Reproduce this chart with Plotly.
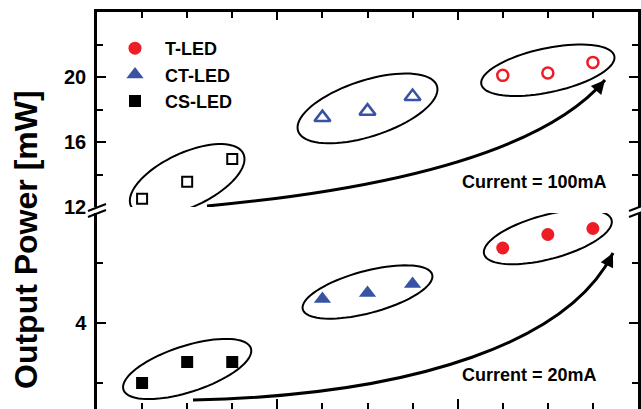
import numpy as np
import plotly.graph_objects as go

# ---------------- data ----------------
x_cs = [1, 2, 3]
x_ct = [5, 6, 7]
x_t = [9, 10, 11]

p100_cs = [12.5, 13.55, 14.95]
p100_ct = [17.5, 17.9, 18.8]
p100_t = [20.1, 20.25, 20.9]

p20_cs = [2.0, 2.7, 2.7]
p20_ct = [4.8, 5.0, 5.3]
p20_t = [6.5, 6.95, 7.15]

top_ticks = [12, 16, 20]
top_minor = [14, 18, 22]
bot_ticks = [4]
bot_minor = [2, 6]

names = ["T-LED", "CT-LED", "CS-LED"]

# ---------------- layout geometry ----------------
W, H = 641, 409
ML, MR, MT, MB = 97, 3, 12, 0
PW, PH = W - ML - MR, H - MT - MB
TOP_PY0, TOP_PY1 = 12, 207      # pixel span of upper section
BOT_PY0, BOT_PY1 = 213, 409     # pixel span of lower section
XR = [0, 12]
YT_R = [12, 24]
YB_R = [1.133, 7.667]

dom_top = [(H - MB - TOP_PY1) / PH, 1.0]
dom_bot = [0.0, (H - MB - BOT_PY0) / PH]

RED = "#ee1c25"
BLUE = "#3953a4"
BLK = "#000000"
FONT = "Liberation Sans, Arial, sans-serif"


def x2px(x):
    return ML + (np.asarray(x, float) - XR[0]) / (XR[1] - XR[0]) * PW


def px2x(p):
    return XR[0] + (np.asarray(p, float) - ML) / PW * (XR[1] - XR[0])


def y2px(v, top):
    r, p0, p1 = (YT_R, TOP_PY0, TOP_PY1) if top else (YB_R, BOT_PY0, BOT_PY1)
    return p1 - (np.asarray(v, float) - r[0]) / (r[1] - r[0]) * (p1 - p0)


def px2y(p, top):
    r, p0, p1 = (YT_R, TOP_PY0, TOP_PY1) if top else (YB_R, BOT_PY0, BOT_PY1)
    return r[0] + (p1 - np.asarray(p, float)) / (p1 - p0) * (r[1] - r[0])


def ellipse_path(xs, ys, top, a, b, ang):
    cx = float(np.mean(x2px(xs)))
    cy = float(np.mean(y2px(ys, top)))
    t = np.linspace(0, 2 * np.pi, 80)
    th = np.deg2rad(ang)
    ex = cx + a * np.cos(t) * np.cos(th) - b * np.sin(t) * np.sin(th)
    ey = cy - (a * np.cos(t) * np.sin(th) + b * np.sin(t) * np.cos(th))
    dx = px2x(ex)
    dy = px2y(ey, top)
    pts = " L ".join(f"{u:.4f},{v:.4f}" for u, v in zip(dx, dy))
    return "M " + pts + " Z"


def pxpt(p, top):
    return f"{float(px2x(p[0])):.4f},{float(px2y(p[1], top)):.4f}"


fig = go.Figure()

# lower section (20 mA), filled markers -> legend
fig.add_trace(go.Scatter(x=x_t, y=p20_t, mode="markers", name=names[0],
                         marker=dict(symbol="circle", size=13, color=RED),
                         xaxis="x", yaxis="y"))
fig.add_trace(go.Scatter(x=x_ct, y=p20_ct, mode="markers", name=names[1],
                         marker=dict(symbol="triangle-up", size=15, color=BLUE),
                         xaxis="x", yaxis="y"))
fig.add_trace(go.Scatter(x=x_cs, y=p20_cs, mode="markers", name=names[2],
                         marker=dict(symbol="square", size=12, color=BLK),
                         xaxis="x", yaxis="y"))

# upper section (100 mA), open markers
fig.add_trace(go.Scatter(x=x_t, y=p100_t, mode="markers", showlegend=False,
                         marker=dict(symbol="circle-open", size=11, color=RED,
                                     line=dict(width=2.5, color=RED)),
                         xaxis="x2", yaxis="y2"))
fig.add_trace(go.Scatter(x=x_ct, y=p100_ct, mode="markers", showlegend=False,
                         marker=dict(symbol="triangle-up-open", size=14, color=BLUE,
                                     line=dict(width=2.5, color=BLUE)),
                         xaxis="x2", yaxis="y2"))
fig.add_trace(go.Scatter(x=x_cs, y=p100_cs, mode="markers", showlegend=False,
                         marker=dict(symbol="square-open", size=10, color=BLK,
                                     line=dict(width=2, color=BLK)),
                         xaxis="x2", yaxis="y2"))

shapes = []
# ellipses around groups
ell = [
    (x_cs, p100_cs, True, 62, 27, 25),
    (x_ct, p100_ct, True, 73, 28, 18),
    (x_t, p100_t, True, 68, 22, 12),
    (x_cs, p20_cs, False, 67, 23, 18),
    (x_ct, p20_ct, False, 67, 21, 15),
    (x_t, p20_t, False, 66, 22, 15),
]
for xs, ys, top, a, b, ang in ell:
    shapes.append(dict(type="path", path=ellipse_path(xs, ys, top, a, b, ang),
                       xref="x", yref="y2" if top else "y",
                       line=dict(color=BLK, width=2)))

# curved arrows (pixel control points)
arrows = [
    (True, [(207, 206), (400, 188), (545, 150), (605, 80)]),
    (False, [(193, 400), (420, 395), (570, 340), (613, 253)]),
]
annotations = []
for top, P in arrows:
    path = "M " + pxpt(P[0], top) + " C " + " ".join(pxpt(p, top) for p in P[1:])
    shapes.append(dict(type="path", path=path, xref="x", yref="y2" if top else "y",
                       line=dict(color=BLK, width=3)))
    d = np.array(P[3], float) - np.array(P[2], float)
    d = d / np.linalg.norm(d) * 12
    annotations.append(dict(x=float(px2x(P[3][0])), y=float(px2y(P[3][1], top)),
                            xref="x", yref="y2" if top else "y",
                            ax=-d[0], ay=-d[1], text="", showarrow=True,
                            arrowhead=2, arrowsize=1.1, arrowwidth=2.5,
                            arrowcolor=BLK, standoff=0))

# axis break marks
def ppx(px):
    return (px - ML) / PW


def ppy(py):
    return (H - MB - py) / PH


for bx in (97, 638):
    for off in (0, 6):
        shapes.append(dict(type="line", xref="paper", yref="paper",
                           x0=ppx(bx - 9), y0=ppy(211 + off),
                           x1=ppx(bx + 9), y1=ppy(204 + off),
                           line=dict(color=BLK, width=2)))

annotations.append(dict(x=float(px2x(534)), y=float(px2y(182, True)), xref="x", yref="y2",
                        text="Current = 100mA", showarrow=False,
                        font=dict(family=FONT, size=18, color=BLK, weight="bold")))
annotations.append(dict(x=float(px2x(529)), y=float(px2y(375, False)), xref="x", yref="y",
                        text="Current = 20mA", showarrow=False,
                        font=dict(family=FONT, size=18, color=BLK, weight="bold")))
annotations.append(dict(x=ppx(26), y=ppy(240), xref="paper", yref="paper",
                        text="Output Power [mW]", textangle=-90, showarrow=False,
                        xanchor="center", yanchor="middle",
                        font=dict(family=FONT, size=32, color=BLK, weight="bold")))

tickfont = dict(family=FONT, size=20, color=BLK, weight="bold")

fig.update_layout(
    width=W, height=H,
    margin=dict(l=ML, r=MR, t=MT, b=MB, pad=0, autoexpand=False),
    paper_bgcolor="white", plot_bgcolor="white",
    showlegend=True,
    legend=dict(x=ppx(105), y=ppy(30), xanchor="left", yanchor="top",
                bgcolor="rgba(0,0,0,0)", font=dict(family=FONT, size=18, color=BLK, weight="bold"),
                tracegroupgap=0, itemsizing="trace", itemwidth=50),
    xaxis=dict(domain=[0, 1], range=XR, anchor="y", showline=False, showgrid=False,
               zeroline=False, ticks="inside", tick0=0, dtick=4, ticklen=10, tickwidth=2,
               tickcolor=BLK, showticklabels=False, automargin=False,
               minor=dict(ticks="inside", tick0=0, dtick=1, ticklen=6, tickwidth=2, tickcolor=BLK)),
    xaxis2=dict(domain=[0, 1], matches="x", anchor="y2", side="top", showline=True,
                linewidth=2.5, linecolor=BLK, showgrid=False, zeroline=False,
                ticks="inside", tick0=0, dtick=4, ticklen=8, tickwidth=2, tickcolor=BLK,
                showticklabels=False, automargin=False,
                minor=dict(ticks="inside", tick0=0, dtick=1, ticklen=6, tickwidth=2, tickcolor=BLK)),
    yaxis=dict(domain=dom_bot, range=YB_R, anchor="x", showline=True, linewidth=2.5,
               linecolor=BLK, mirror="ticks", showgrid=False, zeroline=False,
               ticks="inside", tickmode="array", tickvals=bot_ticks, ticklen=9, tickwidth=2,
               tickcolor=BLK, tickfont=tickfont, ticklabelstandoff=4, automargin=False,
               minor=dict(ticks="inside", tickmode="array", tickvals=bot_minor, ticklen=6,
                          tickwidth=2, tickcolor=BLK)),
    yaxis2=dict(domain=dom_top, range=YT_R, anchor="x2", showline=True, linewidth=2.5,
                linecolor=BLK, mirror="ticks", showgrid=False, zeroline=False,
                ticks="inside", tickmode="array", tickvals=top_ticks, ticklen=9, tickwidth=2,
                tickcolor=BLK, tickfont=tickfont, ticklabelstandoff=4, automargin=False,
                minor=dict(ticks="inside", tickmode="array", tickvals=top_minor, ticklen=6,
                           tickwidth=2, tickcolor=BLK)),
    shapes=shapes,
    annotations=annotations,
)

fig.write_html("out.html")
